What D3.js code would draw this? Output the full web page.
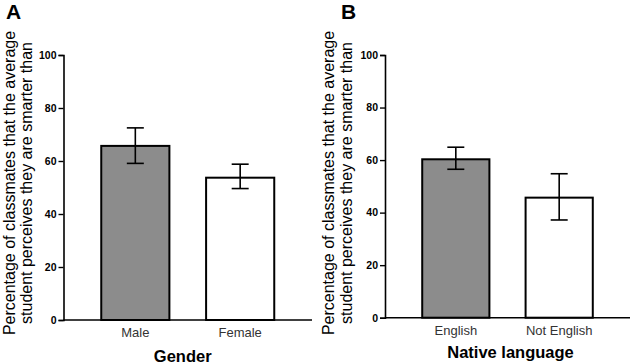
<!DOCTYPE html>
<html>
<head>
<meta charset="utf-8">
<script src="https://cdn.jsdelivr.net/npm/d3@7"></script>
<style>
  body { margin: 0; background: #fff; }
  svg { display: block; font-family: "Liberation Sans", Arial, sans-serif; }
  .tick text { font-weight: bold; font-size: 10.5px; fill: #000; }
</style>
</head>
<body>
<div id="chart"></div>
<script>
// panel A - gender
const genderCats = ["Male", "Female"];
const genderMean = [65.7, 53.7];
const genderLo = [59.1, 49.6];
const genderHi = [72.5, 58.8];

// panel B - native language
const langCats = ["English", "Not English"];
const langMean = [60.3, 45.7];
const langLo = [56.5, 37.2];
const langHi = [64.9, 54.8];

const barFill = ["#8c8c8c", "#ffffff"];
const yTicks = [0, 20, 40, 60, 80, 100];
const yTitle = ["Percentage of classmates that the average", "student perceives they are smarter than"];

const svg = d3.select("#chart").append("svg")
    .attr("width", 630).attr("height", 364);

function drawPanel(p) {
    let x, y, g;

    x = d3.scaleBand()
	.domain(p.cats)
	.range([p.left, p.right])
	.paddingInner(0.35)
	.paddingOuter(0.36);

    y = d3.scaleLinear()
	.domain([0, 100])
	.range([p.bottom, 55]);

    g = svg.append("g");

    // bars
    g.selectAll("rect.bar")
	.data(p.cats)
	.enter().append("rect")
	.attr("x", d => x(d))
	.attr("width", x.bandwidth())
	.attr("y", (d, i) => y(p.mean[i]))
	.attr("height", (d, i) => y(0) - y(p.mean[i]))
	.attr("fill", (d, i) => barFill[i])
	.attr("stroke", "#000")
	.attr("stroke-width", 2);

    // error bars
    p.cats.forEach(function(c, i) {
	let cx = x(c) + x.bandwidth() / 2;
	let eb = g.append("g").attr("stroke", "#000").attr("stroke-width", 1.6);
	eb.append("line").attr("x1", cx).attr("x2", cx)
	    .attr("y1", y(p.lo[i])).attr("y2", y(p.hi[i]));
	eb.append("line").attr("x1", cx - 8.5).attr("x2", cx + 8.5)
	    .attr("y1", y(p.lo[i])).attr("y2", y(p.lo[i]));
	eb.append("line").attr("x1", cx - 8.5).attr("x2", cx + 8.5)
	    .attr("y1", y(p.hi[i])).attr("y2", y(p.hi[i]));
    });

    // y-axis
    let ya = g.append("g")
	.attr("transform", "translate(" + p.left + ",0)")
	.call(d3.axisLeft(y).tickValues(yTicks).tickSize(5).tickPadding(2));
    ya.select(".domain").attr("stroke-width", 1.6);
    ya.selectAll(".tick line").attr("stroke-width", 1.4);

    // x-axis
    let xa = g.append("g")
	.attr("transform", "translate(0," + p.bottom + ")")
	.call(d3.axisBottom(x).tickSize(0).tickPadding(8));
    xa.select(".domain").attr("stroke-width", 1.6).attr("d", "M" + p.left + ",0H" + p.right);
    xa.selectAll(".tick text")
	.style("font-weight", "normal")
	.style("font-size", "13px")
	.style("fill", "#333");

    // x title
    g.append("text")
	.attr("x", (x(p.cats[0]) + x(p.cats[1]) + x.bandwidth()) / 2 + p.xTitleShift)
	.attr("y", p.xTitleY)
	.attr("text-anchor", "middle")
	.style("font-weight", "bold")
	.style("font-size", "16.5px")
	.text(p.xTitle);

    // y title
    yTitle.forEach(function(t, i) {
	g.append("text")
	    .attr("transform", "translate(" + p.yTitleX[i] + ",183) rotate(-90)")
	    .attr("text-anchor", "middle")
	    .style("font-size", "16px")
	    .text(t);
    });

    // panel letter
    g.append("text")
	.attr("x", p.letterX)
	.attr("y", 19)
	.style("font-weight", "bold")
	.style("font-size", "21px")
	.text(p.letter);
}

drawPanel({
    cats: genderCats, mean: genderMean, lo: genderLo, hi: genderHi,
    left: 63.5, right: 312, bottom: 320,
    xTitle: "Gender", xTitleY: 362, xTitleShift: -5, yTitleX: [15, 32],
    letter: "A", letterX: 6
});

drawPanel({
    cats: langCats, mean: langMean, lo: langLo, hi: langHi,
    left: 385, right: 630, bottom: 317.7,
    xTitle: "Native language", xTitleY: 358, xTitleShift: 3, yTitleX: [334, 352],
    letter: "B", letterX: 341
});
</script>
</body>
</html>
